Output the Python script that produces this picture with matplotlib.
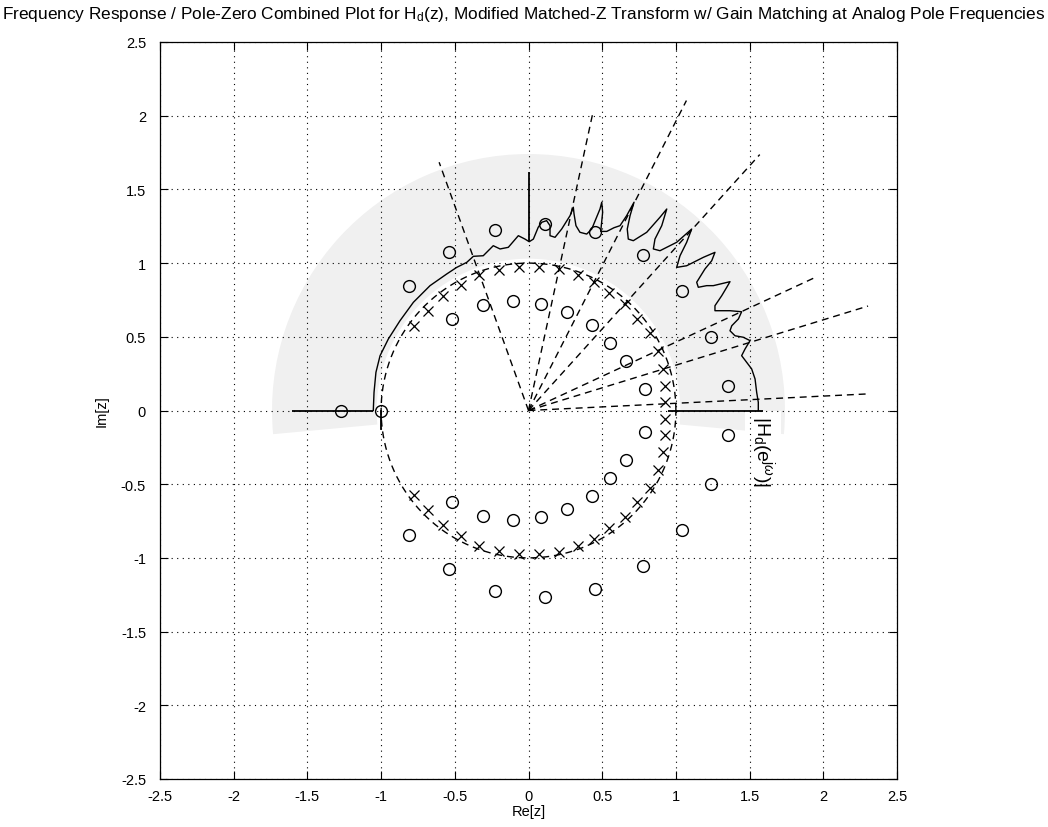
import numpy as np
import matplotlib
matplotlib.use("Agg")
import matplotlib.pyplot as plt
from matplotlib.patches import Wedge

plt.rcParams['font.family'] = ['Liberation Sans', 'DejaVu Sans']
plt.rcParams['mathtext.fontset'] = 'custom'
plt.rcParams['mathtext.rm'] = 'Liberation Sans'
plt.rcParams['mathtext.it'] = 'Liberation Sans:italic'

# --- poles (upper half; the lower half are their conjugates) ---
pole_re = [-0.777, -0.684, -0.578, -0.458, -0.334, -0.198, -0.062, 0.072, 0.207, 0.338,
           0.444, 0.548, 0.657, 0.738, 0.824, 0.881, 0.910, 0.926, 0.926]
pole_im = [0.575, 0.677, 0.779, 0.853, 0.919, 0.955, 0.971, 0.971, 0.960, 0.919,
           0.870, 0.795, 0.725, 0.621, 0.526, 0.406, 0.282, 0.166, 0.056]

# --- zeros: real ones, then complex ones in the upper half ---
zero_real = [-1.272, -1.0]
zero_re = [-0.809, -0.537, -0.227, 0.115, 0.451, 0.775, 1.039, 1.238, 1.351,
           -0.521, -0.311, -0.107, 0.083, 0.259, 0.429, 0.553, 0.661, 0.793]
zero_im = [0.847, 1.077, 1.225, 1.262, 1.213, 1.055, 0.809, 0.501, 0.168,
           0.621, 0.718, 0.743, 0.723, 0.666, 0.580, 0.458, 0.334, 0.146]

# --- |H_d(e^{jw})| drawn radially outside the unit circle ---
curve_re = [-1.053, -1.048, -1.035, -1.007, -0.951, -0.872, -0.781, -0.668, -0.555, -0.487,
            -0.419, -0.374, -0.307, -0.239, -0.193, -0.137, -0.069, -0.024, 0.005, 0.033,
            0.066, 0.090, 0.123, 0.146, 0.146, 0.180, 0.225, 0.282, 0.304, 0.309,
            0.322, 0.349, 0.395, 0.429, 0.485, 0.497, 0.503, 0.490, 0.531, 0.580,
            0.621, 0.666, 0.716, 0.689, 0.670, 0.677, 0.711, 0.802, 0.892, 0.938,
            0.904, 0.858, 0.847, 0.892, 1.005, 1.107, 1.073, 1.028, 1.005, 1.073,
            1.186, 1.265, 1.243, 1.197, 1.141, 1.152, 1.209, 1.254, 1.367, 1.345,
            1.311, 1.265, 1.265, 1.367, 1.446, 1.424, 1.379, 1.367, 1.401, 1.457,
            1.503, 1.469, 1.446, 1.480, 1.514, 1.537, 1.548, 1.559, 1.559]
curve_im = [0.000, 0.123, 0.259, 0.372, 0.485, 0.609, 0.734, 0.847, 0.926, 0.971,
            1.005, 1.046, 1.050, 1.118, 1.096, 1.107, 1.186, 1.163, 1.145, 1.163,
            1.243, 1.277, 1.288, 1.254, 1.186, 1.175, 1.231, 1.322, 1.379, 1.333,
            1.254, 1.209, 1.197, 1.231, 1.367, 1.413, 1.345, 1.215, 1.215, 1.240,
            1.254, 1.322, 1.413, 1.322, 1.231, 1.163, 1.152, 1.209, 1.311, 1.367,
            1.254, 1.163, 1.096, 1.084, 1.141, 1.231, 1.141, 1.050, 0.971, 0.982,
            1.039, 1.073, 1.016, 0.960, 0.870, 0.836, 0.847, 0.847, 0.874, 0.836,
            0.779, 0.711, 0.677, 0.677, 0.670, 0.621, 0.575, 0.541, 0.507, 0.497,
            0.474, 0.417, 0.372, 0.327, 0.282, 0.214, 0.123, 0.056, 0.000]

# magnitude reference axes at w = pi, pi/2, 0  (start, end radii)
mag_axis_deg = [180, 90, 0]
mag_axis_r0 = [1.053, 1.145, 0.949]
mag_axis_r1 = [1.607, 1.620, 1.593]

# analog pole frequencies shown as dashed rays
ray_deg = [109.8, 77.8, 63.0, 47.9, 24.9, 17.1, 2.8]
ray_len = [1.79, 2.05, 2.36, 2.34, 2.16, 2.41, 2.30]

ticks = [-2.5, -2, -1.5, -1, -0.5, 0, 0.5, 1, 1.5, 2, 2.5]
tick_labels = ['-2.5', '-2', '-1.5', '-1', '-0.5', '0', '0.5', '1', '1.5', '2', '2.5']

title = (r'Frequency Response / Pole-Zero Combined Plot for H$_\mathrm{d}$(z), '
         r'Modified Matched-Z Transform w/ Gain Matching at Analog Pole Frequencies')

W, H = 1048, 828
fig = plt.figure(figsize=(W / 100, H / 100), dpi=100)
ax = fig.add_axes([160 / W, 48 / H, 737 / W, 737 / H])

# shaded band where the magnitude response is drawn
ax.add_patch(Wedge((0, 0), 1.74, -5.3, 185.3, width=0.71,
                   facecolor='#f0f0f0', edgecolor='none', zorder=0.2))

# unit circle
t = np.linspace(0, 2 * np.pi, 600)
ax.plot(np.cos(t), np.sin(t), color='black', lw=1.0, ls=(0, (5, 3.5)), zorder=2)

# dashed rays
for a, L in zip(ray_deg, ray_len):
    th = np.deg2rad(a)
    ax.plot([0, L * np.cos(th)], [0, L * np.sin(th)], color='black', lw=1.0,
            ls=(0, (5, 3.5)), zorder=2)

# magnitude axes
for a, r0, r1 in zip(mag_axis_deg, mag_axis_r0, mag_axis_r1):
    th = np.deg2rad(a)
    ax.plot([r0 * np.cos(th), r1 * np.cos(th)], [r0 * np.sin(th), r1 * np.sin(th)],
            color='black', lw=1.3, solid_capstyle='butt', zorder=3)
ax.plot([-1.0, -1.0], [0, -0.125], color='black', lw=1.3, zorder=3)

# response curve
ax.plot(curve_re, curve_im, color='black', lw=1.0, zorder=3)

# poles and zeros
p_re = np.array(pole_re)
p_im = np.array(pole_im)
ax.plot(np.concatenate([p_re, p_re]), np.concatenate([p_im, -p_im]), ls='none',
        marker='x', ms=7, mew=0.9, color='black', zorder=4)
z_re = np.array(zero_re)
z_im = np.array(zero_im)
zx = np.concatenate([zero_real, z_re, z_re])
zy = np.concatenate([np.zeros(len(zero_real)), z_im, -z_im])
ax.plot(zx, zy, ls='none', marker='o', ms=8.5, mew=1.0, mfc='none', color='black', zorder=4)

ax.text(1.59, -0.03, r'$|\mathrm{H}_\mathrm{d}(\mathrm{e}^{\mathrm{j}\omega})|$', rotation=270,
        ha='center', va='top', fontsize=14, zorder=0.3,
        bbox=dict(facecolor='white', edgecolor='none', pad=3))

ax.set_xlim(-2.5, 2.5)
ax.set_ylim(-2.5, 2.5)
ax.set_xticks(ticks)
ax.set_yticks(ticks)
ax.set_xticklabels(tick_labels)
ax.set_yticklabels(tick_labels)
ax.tick_params(direction='in', length=6, width=0.8, top=True, right=True,
               labelsize=10.5)
ax.tick_params(axis='x', pad=7)
ax.tick_params(axis='y', pad=10)
ax.grid(True, color='black', ls=(0, (1, 4)), lw=0.8)
ax.set_axisbelow(True)
for s in ax.spines.values():
    s.set_linewidth(0.9)

ax.set_xlabel('Re[z]', fontsize=10.5, labelpad=1)
ax.set_ylabel('Im[z]', fontsize=10.5, labelpad=9)
fig.text(0.5, 1 - 14 / H, title, ha='center', va='center', fontsize=12.4)

fig.savefig('out.png', dpi=100)
